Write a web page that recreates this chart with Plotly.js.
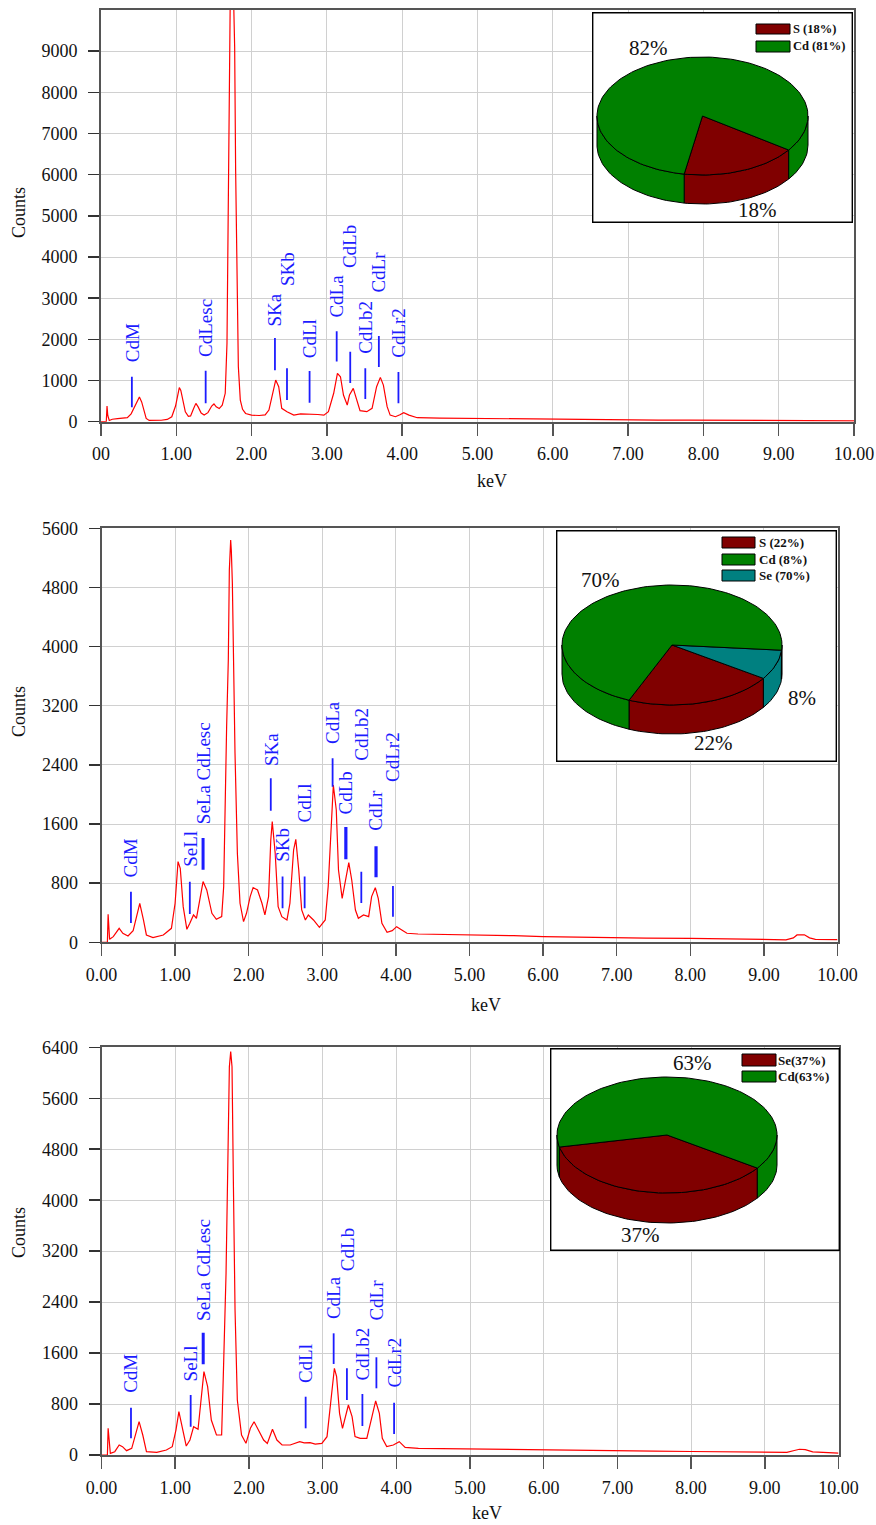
<!DOCTYPE html>
<html><head><meta charset="utf-8">
<script src="https://cdn.plot.ly/plotly-3.0.1.min.js"></script>
<style>html,body{margin:0;padding:0;background:#fff}</style>
</head><body>
<div id="chart" style="width:876px;height:1525px"></div>
<script>
// ===================== DATA =====================
// x tick labels
const xTickVals = [0,1,2,3,4,5,6,7,8,9,10];
const xTickText1 = ["00","1.00","2.00","3.00","4.00","5.00","6.00","7.00","8.00","9.00","10.00"];
const xTickText23 = ["0.00","1.00","2.00","3.00","4.00","5.00","6.00","7.00","8.00","9.00","10.00"];
const yTicks1 = [0,1000,2000,3000,4000,5000,6000,7000,8000,9000];
const yTicks2 = [0,800,1600,2400,3200,4000,4800,5600];
const yTicks3 = [0,800,1600,2400,3200,4000,4800,5600,6400];

// spectra [keV, counts]
const spectrum1 = [[0,0],[0.07,0],[0.08,380],[0.09,150],[0.11,30],[0.15,60],[0.22,75],[0.30,85],[0.35,100],[0.40,190],[0.45,380],[0.49,560],[0.51,600],[0.54,480],[0.57,250],[0.60,80],[0.64,30],[0.72,25],[0.80,35],[0.88,55],[0.94,120],[0.99,380],[1.02,700],[1.04,830],[1.06,760],[1.09,480],[1.12,240],[1.16,130],[1.19,140],[1.23,320],[1.26,445],[1.29,360],[1.33,210],[1.37,160],[1.42,220],[1.47,380],[1.50,430],[1.53,360],[1.57,320],[1.61,400],[1.65,690],[1.673,1900],[1.687,5056],[1.704,8616],[1.72,11000],[1.74,12000],[1.755,10800],[1.762,9546],[1.775,9100],[1.788,6100],[1.806,3924],[1.824,1335],[1.85,526],[1.88,300],[1.92,200],[2.00,160],[2.10,150],[2.18,165],[2.23,283],[2.27,607],[2.32,1011],[2.36,850],[2.40,324],[2.47,243],[2.56,160],[2.65,190],[2.78,186],[2.88,175],[2.96,160],[3.02,243],[3.09,690],[3.14,1173],[3.18,1092],[3.22,647],[3.27,404],[3.30,647],[3.35,809],[3.39,566],[3.44,267],[3.53,243],[3.60,324],[3.66,850],[3.71,1076],[3.75,890],[3.80,364],[3.84,160],[3.91,121],[3.97,170],[4.02,218],[4.09,160],[4.20,97],[4.5,88],[4.8,82],[5.0,78],[5.3,72],[5.6,64],[6.0,50],[6.3,48],[6.7,43],[7.0,40],[7.4,39],[7.8,37],[8.1,35],[8.5,31],[8.9,27],[9.2,26],[9.6,24],[10.0,22]];

const spectrum2 = [[0,0],[0.08,0],[0.09,379],[0.11,40],[0.16,77],[0.24,189],[0.29,122],[0.36,86],[0.43,158],[0.48,370],[0.52,528],[0.57,302],[0.61,99],[0.70,63],[0.84,99],[0.95,189],[1.00,528],[1.04,1091],[1.07,1001],[1.11,482],[1.16,176],[1.20,257],[1.25,370],[1.29,325],[1.34,573],[1.38,821],[1.43,708],[1.50,392],[1.56,311],[1.633,347],[1.66,753],[1.678,1880],[1.70,2917],[1.723,3819],[1.737,5037],[1.755,5442],[1.764,5300],[1.778,4856],[1.791,3774],[1.814,2557],[1.846,1204],[1.882,528],[1.93,280],[1.97,392],[2.02,618],[2.06,739],[2.12,708],[2.18,528],[2.22,370],[2.27,618],[2.30,1384],[2.32,1632],[2.36,1204],[2.40,482],[2.45,347],[2.52,302],[2.56,528],[2.61,1249],[2.64,1393],[2.68,978],[2.72,437],[2.77,302],[2.81,370],[2.88,302],[2.96,203],[3.04,302],[3.08,753],[3.12,1565],[3.15,2128],[3.19,1790],[3.22,978],[3.27,595],[3.30,753],[3.36,1078],[3.40,843],[3.45,437],[3.49,325],[3.56,370],[3.63,347],[3.67,618],[3.72,739],[3.76,595],[3.81,257],[3.88,135],[3.95,158],[4.01,212],[4.08,167],[4.15,122],[4.3,112],[4.6,108],[5.0,100],[5.3,95],[5.6,90],[6.0,77],[6.3,72],[6.6,66],[7.0,60],[7.4,57],[8.0,54],[8.5,46],[9.0,37],[9.3,34],[9.4,60],[9.45,100],[9.55,102],[9.62,60],[9.7,40],[10.0,37]];

const spectrum3 = [[0,0],[0.08,0],[0.09,419],[0.12,26],[0.18,52],[0.24,157],[0.285,131],[0.34,68],[0.41,105],[0.47,366],[0.51,523],[0.56,314],[0.61,52],[0.75,42],[0.88,78],[0.96,131],[1.01,392],[1.05,680],[1.09,445],[1.15,141],[1.20,235],[1.25,445],[1.31,403],[1.36,968],[1.39,1308],[1.44,1073],[1.49,549],[1.56,314],[1.63,314],[1.653,1256],[1.69,2852],[1.712,4422],[1.735,6096],[1.753,6332],[1.771,6096],[1.789,4317],[1.812,2276],[1.843,863],[1.90,314],[1.96,183],[2.02,419],[2.07,523],[2.13,392],[2.20,235],[2.25,183],[2.32,403],[2.38,235],[2.45,157],[2.56,157],[2.69,209],[2.75,190],[2.83,194],[2.90,170],[2.99,183],[3.06,288],[3.11,811],[3.16,1361],[3.19,1230],[3.23,654],[3.27,419],[3.31,602],[3.35,785],[3.40,602],[3.44,288],[3.51,262],[3.60,262],[3.67,602],[3.72,848],[3.77,654],[3.81,262],[3.87,131],[3.96,157],[4.04,209],[4.12,120],[4.3,105],[4.6,100],[5.0,92],[5.5,85],[6.0,76],[6.5,70],[7.0,64],[7.5,60],[8.0,55],[8.5,48],[9.0,42],[9.3,40],[9.4,70],[9.47,90],[9.55,85],[9.65,50],[10.0,30]];

// peak identification labels
const peaks1Names = ["CdM","CdLesc","SKa","SKb","CdLl","CdLa","CdLb","CdLb2","CdLr","CdLr2"];
const peaks1KeV   = [0.41,1.39,2.31,2.47,2.77,3.13,3.31,3.51,3.69,3.95];
const peaks2Names = ["CdM","SeLl","SeLa CdLesc","SKa","SKb","CdLl","CdLa","CdLb","CdLb2","CdLr","CdLr2"];
const peaks2KeV   = [0.40,1.20,1.38,2.30,2.46,2.76,3.14,3.32,3.53,3.73,3.96];
const peaks3Names = ["CdM","SeLl","SeLa CdLesc","CdLl","CdLa","CdLb","CdLb2","CdLr","CdLr2"];
const peaks3KeV   = [0.40,1.21,1.38,2.77,3.15,3.33,3.54,3.73,3.97];

// composition insets
const pie1Values = [18,82];          // drawn counter-clockwise
const pie1Text   = ["18%","82%"];
const pie1Legend = ["S (18%)","Cd (81%)"];
const pie2Values = [22,8,70];
const pie2Text   = ["22%","8%","70%"];
const pie2Legend = ["S (22%)","Cd (8%)","Se (70%)"];
const pie3Values = [37,63];
const pie3Text   = ["37%","63%"];
const pie3Legend = ["Se(37%)","Cd(63%)"];

// ===================== STYLE / PLACEMENT =====================
const W = 876, H = 1525;
const SERIF = "'Liberation Serif', 'Times New Roman', serif";
const BLUE = '#1c1cff';
const MAROON = '#800000', GREEN = '#008000', TEAL = '#008080';

const panels = [
  {l:101, r:854, t:10, b:421.7, ymax:10000, yt:yTicks1, xt:xTickText1, countsY:213, kevX:492, kevY:481, spec:spectrum1,
   names:peaks1Names, kev:peaks1KeV,
   lineLo:[350,450,1250,530,460,1460,940,550,1330,450],
   lineHi:[1090,1240,2030,1300,1230,2200,1700,1300,2080,1210],
   textY:[1430,1540,2300,3270,1520,2510,3700,1620,3120,1540],
   lw:[1.8,1.8,1.8,1.8,1.8,1.8,1.8,1.8,1.8,1.8]},
  {l:101.5, r:837.5, t:528.3, b:942.3, ymax:5600, yt:yTicks2, xt:xTickText23, countsY:712, kevX:486, kevY:1005, spec:spectrum2,
   names:peaks2Names, kev:peaks2KeV,
   lineLo:[260,383,980,1780,460,460,2105,1125,530,880,345],
   lineHi:[685,820,1410,2220,890,890,2490,1560,955,1300,760],
   textY:[870,1005,1585,2375,1070,1610,2670,1720,2440,1490,2155],
   lw:[1.8,1.8,3,1.8,1.8,1.8,1.8,3.2,1.8,3.2,1.8]},
  {l:101.5, r:838.5, t:1047.3, b:1455, ymax:6400, yt:yTicks3, xt:xTickText23, countsY:1233, kevX:487, kevY:1513, spec:spectrum3,
   names:peaks3Names, kev:peaks3KeV,
   lineLo:[262,445,1424,419,1429,863,455,1047,330],
   lineHi:[743,942,1920,915,1910,1361,958,1534,821],
   textY:[968,1135,2093,1115,2120,2877,1151,2093,1047],
   lw:[1.8,1.8,3,1.8,1.8,1.8,1.8,1.8,1.8]}
];

const insets = [
  {l:592, r:853, t:12, b:223, cx:110.5, cy:107, a:105.5, bb:59, d:29, start:-100,
   values:pie1Values, text:pie1Text, colors:[MAROON,GREEN],
   textPos:[[165,13],[56,175]],
   legend:pie1Legend, legendColors:[MAROON,GREEN],
   swX:[164,198], swY:[[189,199],[171,182]], legTextX:200, legFont:12.5},
  {l:556, r:837, t:530, b:762, cx:116, cy:117, a:110, bb:60, d:29, start:-113,
   values:pie2Values, text:pie2Text, colors:[MAROON,TEAL,GREEN],
   textPos:[[157,19],[246,64],[44,182]],
   legend:pie2Legend, legendColors:[MAROON,GREEN,TEAL],
   swX:[166,199], swY:[[214,225],[197,208],[181,192]], legTextX:202, legFont:13},
  {l:550, r:840, t:1048, b:1251, cx:117, cy:116, a:110, bb:58, d:30, start:-168,
   values:pie3Values, text:pie3Text, colors:[MAROON,GREEN],
   textPos:[[90,16],[142,188]],
   legend:pie3Legend, legendColors:[MAROON,GREEN],
   swX:[192,226], swY:[[185,197],[169,180]], legTextX:227, legFont:13}
];

// ===================== BUILD =====================
const traces = [], shapes = [], annotations = [];
const layout = {
  width:W, height:H, margin:{l:0,r:0,t:0,b:0},
  paper_bgcolor:'#fff', plot_bgcolor:'#fff', showlegend:false,
  font:{family:SERIF, color:'#111'}
};

panels.forEach((p,i)=>{
  const n = i+1, xs = n===1?'':String(n);
  const xa = 'x'+xs, ya = 'y'+xs;
  layout['xaxis'+xs] = {
    domain:[p.l/W, p.r/W], range:[0,10], anchor:ya, fixedrange:true,
    tickvals:xTickVals, ticktext:p.xt, ticks:'outside', ticklen:12, tickwidth:1.5, tickcolor:'#555',
    showgrid:true, gridcolor:'#d0d0d0', gridwidth:1, zeroline:false,
    showline:true, linecolor:'#555', linewidth:2, mirror:true,
    tickfont:{family:SERIF, size:18, color:'#111'}, ticklabelstandoff:3
  };
  layout['yaxis'+xs] = {
    domain:[1-p.b/H, 1-p.t/H], range:[0,p.ymax], anchor:xa, fixedrange:true,
    tickvals:p.yt, ticks:'outside', ticklen:11, tickwidth:1.5, tickcolor:'#333',
    showgrid:true, gridcolor:'#d0d0d0', gridwidth:1, zeroline:false,
    showline:true, linecolor:'#555', linewidth:2, mirror:true,
    tickfont:{family:SERIF, size:18, color:'#111'}, ticklabelstandoff:7
  };
  traces.push({type:'scatter', mode:'lines', xaxis:xa, yaxis:ya,
    x:p.spec.map(d=>d[0]), y:p.spec.map(d=>d[1]),
    line:{color:'#ff0000', width:1.2}, hoverinfo:'skip'});
  p.names.forEach((nm,k)=>{
    shapes.push({type:'line', xref:xa, yref:ya, x0:p.kev[k], x1:p.kev[k], y0:p.lineLo[k], y1:p.lineHi[k],
      line:{color:BLUE, width:p.lw[k]}});
    annotations.push({xref:xa, yref:ya, x:p.kev[k], y:p.textY[k], text:nm, textangle:-90,
      xanchor:'center', yanchor:'bottom', showarrow:false, borderpad:0,
      font:{family:SERIF, size:19, color:BLUE}});
  });
  annotations.push({xref:'paper', yref:'paper', x:19/W, y:1-p.countsY/H, text:'Counts', textangle:-90,
    xanchor:'center', yanchor:'middle', showarrow:false, font:{family:SERIF, size:18, color:'#111'}});
  annotations.push({xref:'paper', yref:'paper', x:p.kevX/W, y:1-p.kevY/H, text:'keV',
    xanchor:'center', yanchor:'middle', showarrow:false, font:{family:SERIF, size:18, color:'#111'}});
});

// 3-D looking pie insets
function ellPt(g,t,dy){ const r=t*Math.PI/180; return [g.cx+g.a*Math.cos(r), g.cy+g.bb*Math.sin(r)-dy]; }
function arc(g,t1,t2,dy){ const pts=[]; const n=Math.max(2,Math.ceil(Math.abs(t2-t1)/2));
  for(let i=0;i<=n;i++){ pts.push(ellPt(g,t1+(t2-t1)*i/n,dy)); } return pts; }

insets.forEach((g,i)=>{
  const n = i+4, xa='x'+n, ya='y'+n;
  const bw = g.r-g.l, bh = g.b-g.t;
  layout['xaxis'+n] = {domain:[g.l/W, g.r/W], range:[0,bw], anchor:ya, visible:false, fixedrange:true};
  layout['yaxis'+n] = {domain:[1-g.b/H, 1-g.t/H], range:[0,bh], anchor:xa, visible:false, fixedrange:true};
  shapes.push({type:'rect', xref:xa, yref:ya, x0:0, x1:bw, y0:0, y1:bh, layer:'below',
    fillcolor:'#ffffff', line:{color:'#000', width:2.8}});
  const total = g.values.reduce((s,v)=>s+v,0);
  let t = g.start; const walls=[], tops=[];
  g.values.forEach((v,k)=>{
    const t1=t, t2=t+360*v/total; t=t2;
    const top=[[g.cx,g.cy], ...arc(g,t1,t2,0), [g.cx,g.cy]];
    tops.push({type:'scatter', mode:'lines', xaxis:xa, yaxis:ya, fill:'toself', fillcolor:g.colors[k],
      x:top.map(q=>q[0]), y:top.map(q=>q[1]), line:{color:'#000', width:1}, hoverinfo:'skip'});
    const wx=[], wy=[];
    for(let m=-2;m<=1;m++){
      const u1=Math.max(t1,180+360*m), u2=Math.min(t2,360+360*m);
      if(u2>u1+0.01){
        const poly=[...arc(g,u1,u2,0), ...arc(g,u2,u1,g.d)]; poly.push(poly[0]);
        if(wx.length){wx.push(null); wy.push(null);}
        poly.forEach(q=>{wx.push(q[0]); wy.push(q[1]);});
      }
    }
    if(wx.length) walls.push({type:'scatter', mode:'lines', xaxis:xa, yaxis:ya, fill:'toself', fillcolor:g.colors[k],
      x:wx, y:wy, line:{color:'#000', width:1}, hoverinfo:'skip', connectgaps:false});
  });
  traces.push(...walls, ...tops);
  g.text.forEach((tx,k)=>{
    annotations.push({xref:xa, yref:ya, x:g.textPos[k][0], y:g.textPos[k][1], text:tx, showarrow:false,
      xanchor:'center', yanchor:'middle', font:{family:SERIF, size:21, color:'#111'}});
  });
  g.legend.forEach((lg,k)=>{
    shapes.push({type:'rect', xref:xa, yref:ya, x0:g.swX[0], x1:g.swX[1], y0:g.swY[k][0], y1:g.swY[k][1],
      fillcolor:g.legendColors[k], line:{color:'#000', width:1}});
    annotations.push({xref:xa, yref:ya, x:g.legTextX, y:(g.swY[k][0]+g.swY[k][1])/2, text:'<b>'+lg+'</b>',
      showarrow:false, xanchor:'left', yanchor:'middle', borderpad:0,
      font:{family:SERIF, size:g.legFont, color:'#111'}});
  });
});

layout.shapes = shapes;
layout.annotations = annotations;
Plotly.newPlot('chart', traces, layout, {staticPlot:true, displayModeBar:false});
</script>
</body></html>
